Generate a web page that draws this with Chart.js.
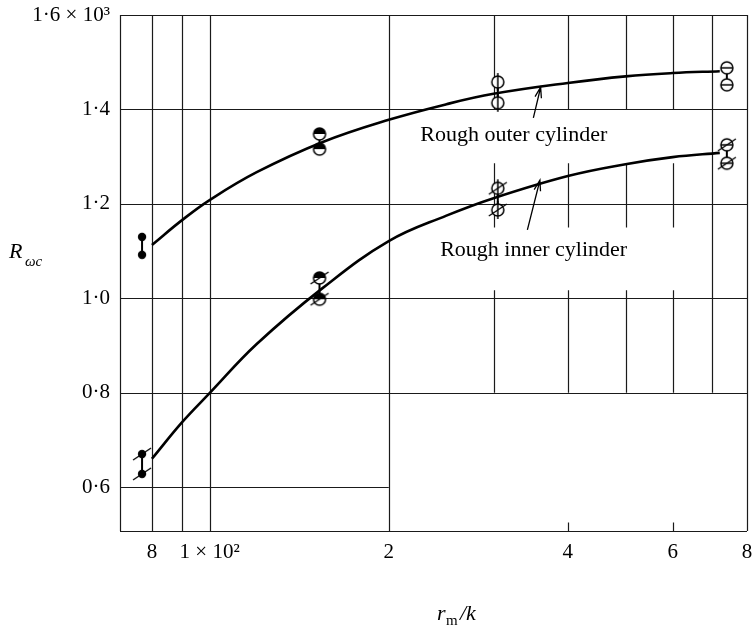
<!DOCTYPE html>
<html>
<head>
<meta charset="utf-8">
<script src="https://cdn.jsdelivr.net/npm/chart.js@4.4.1/dist/chart.umd.min.js"></script>
<style>
  body { margin: 0; background: #fff; }
  canvas { display: block; }
</style>
</head>
<body>
<canvas id="myChart" width="753" height="626"></canvas>
<script>
// r_m/k of each measured pair
const groupX = [77, 153, 305, 740];
// rough outer cylinder, top and bottom point of each pair
const outerHigh = [1130, 1348, 1458, 1488];
const outerLow = [1092, 1316, 1414, 1452];
// rough inner cylinder
const innerHigh = [670, 1043, 1233, 1325];
const innerLow = [628, 998, 1187, 1286];

// faired curves
const curveX = [80, 90, 100, 120, 155, 200, 250, 300, 400, 500, 600, 720];
const outerCurve = [1113, 1166, 1208, 1267, 1331, 1378, 1411, 1433, 1456, 1470, 1477, 1481];
const innerCurve = [660, 738, 799, 903, 1022, 1121, 1175, 1212, 1259, 1284, 1299, 1308];

// ticks
const xTicks = [80, 100, 200, 400, 600, 800];
const xTickLabels = ['8', '1 × 10²', '2', '4', '6', '8'];
const yTicks = [600, 800, 1000, 1200, 1400, 1600];
const yTickLabels = ['0·6', '0·8', '1·0', '1·2', '1·4', '1·6 × 10³'];

const xMin = 70.7, xMax = 800, yMin = 507, yMax = 1600;
const serif = "'Liberation Serif', 'DejaVu Serif', serif";

Chart.defaults.font.family = serif;
Chart.defaults.color = '#000';

// symbols used for the pairs
const pairStyles = ['dot', 'half', 'vbar', 'hbar'];

function marker(kind, slash) {
    const c = document.createElement('canvas');
    c.width = 26;
    c.height = 26;
    const g = c.getContext('2d');
    g.translate(13, 13);
    g.strokeStyle = '#000';
    g.fillStyle = '#000';
    if (kind === 'dot') {
        g.beginPath();
        g.arc(0, 0, 4.2, 0, 2 * Math.PI);
        g.fill();
    } else {
        const r = 6;
        g.lineWidth = 1.5;
        g.beginPath();
        g.arc(0, 0, r, 0, 2 * Math.PI);
        g.fillStyle = '#fff';
        g.fill();
        g.stroke();
        g.fillStyle = '#000';
        if (kind === 'half') {
            g.beginPath();
            g.arc(0, 0, r, Math.PI, 2 * Math.PI);
            g.fill();
        }
        if (kind === 'vbar') {
            g.beginPath();
            g.moveTo(0, -r - 3);
            g.lineTo(0, r + 3);
            g.stroke();
        }
        if (kind === 'hbar') {
            g.beginPath();
            g.moveTo(-r, 0);
            g.lineTo(r, 0);
            g.stroke();
        }
    }
    if (slash) {
        g.lineWidth = 1.3;
        g.beginPath();
        g.moveTo(-9, 6);
        g.lineTo(9, -6);
        g.stroke();
    }
    return c;
}

// grid of the original graph paper, not every line runs right across
const gridV = [
    [xMin, yMin, yMax], [80, yMin, yMax], [90, yMin, yMax], [100, yMin, yMax],
    [200, yMin, yMax], [700, 800, yMax], [800, yMin, yMax],
    [400, yMin, yMin + 18], [600, yMin, yMin + 18]
];
[300, 400, 500, 600].forEach(v => {
    gridV.push([v, 800, 1017], [v, 1150, 1286], [v, 1400, yMax]);
});
const gridH = [
    [yMin, xMin, xMax], [600, xMin, 200], [800, xMin, xMax], [1000, xMin, xMax],
    [1200, xMin, xMax], [1400, xMin, xMax], [yMax, xMin, xMax]
];

const paperGrid = {
    id: 'paperGrid',
    beforeDatasetsDraw(chart) {
        const { ctx } = chart;
        const x = chart.scales.x, y = chart.scales.y;
        ctx.save();
        ctx.strokeStyle = '#1a1a1a';
        ctx.lineWidth = 1.2;
        ctx.beginPath();
        gridV.forEach(([v, a, b]) => {
            const px = Math.round(x.getPixelForValue(v)) + 0.5;
            ctx.moveTo(px, y.getPixelForValue(a));
            ctx.lineTo(px, y.getPixelForValue(b));
        });
        gridH.forEach(([v, a, b]) => {
            const py = Math.round(y.getPixelForValue(v)) + 0.5;
            ctx.moveTo(x.getPixelForValue(a), py);
            ctx.lineTo(x.getPixelForValue(b), py);
        });
        ctx.stroke();
        ctx.restore();
    }
};

// curve labels with their arrows
const notes = [
    { text: 'Rough outer cylinder', x: 226, y: 1346, from: [350, 1382], to: [360, 1447] },
    { text: 'Rough inner cylinder', x: 244, y: 1102, from: [342, 1145], to: [359, 1250] }
];

function arrow(ctx, x0, y0, x1, y1) {
    const a = Math.atan2(y1 - y0, x1 - x0);
    ctx.beginPath();
    ctx.moveTo(x0, y0);
    ctx.lineTo(x1, y1);
    ctx.moveTo(x1 - 11 * Math.cos(a - 0.3), y1 - 11 * Math.sin(a - 0.3));
    ctx.lineTo(x1, y1);
    ctx.lineTo(x1 - 11 * Math.cos(a + 0.3), y1 - 11 * Math.sin(a + 0.3));
    ctx.stroke();
}

const labels = {
    id: 'labels',
    afterDatasetsDraw(chart) {
        const { ctx } = chart;
        const x = chart.scales.x, y = chart.scales.y;
        ctx.save();
        ctx.fillStyle = '#000';
        ctx.strokeStyle = '#000';
        ctx.lineWidth = 1.3;
        ctx.font = '22px ' + serif;
        ctx.textBaseline = 'middle';
        notes.forEach(n => {
            ctx.fillText(n.text, x.getPixelForValue(n.x), y.getPixelForValue(n.y));
            arrow(ctx, x.getPixelForValue(n.from[0]), y.getPixelForValue(n.from[1]),
                x.getPixelForValue(n.to[0]), y.getPixelForValue(n.to[1]));
        });

        // axis titles
        ctx.textBaseline = 'alphabetic';
        ctx.font = 'italic 22px ' + serif;
        ctx.fillText('R', 9, 258);
        ctx.font = 'italic 15px ' + serif;
        ctx.fillText('ωc', 25, 266);

        ctx.font = 'italic 22px ' + serif;
        ctx.fillText('r', 437, 620);
        ctx.font = '15px ' + serif;
        ctx.fillText('m', 446, 625);
        ctx.font = 'italic 22px ' + serif;
        ctx.fillText('/k', 460, 620);
        ctx.restore();
    }
};

const datasets = [
    {
        data: curveX.map((v, i) => ({ x: v, y: outerCurve[i] })),
        showLine: true, borderColor: '#000', borderWidth: 2.6, pointRadius: 0,
        tension: 0.4
    },
    {
        data: curveX.map((v, i) => ({ x: v, y: innerCurve[i] })),
        showLine: true, borderColor: '#000', borderWidth: 2.6, pointRadius: 0,
        tension: 0.4
    }
];

groupX.forEach((v, i) => {
    datasets.push({
        data: [{ x: v, y: outerHigh[i] }, { x: v, y: outerLow[i] }],
        showLine: true, borderColor: '#000', borderWidth: 2,
        pointStyle: marker(pairStyles[i], false)
    });
    datasets.push({
        data: [{ x: v, y: innerHigh[i] }, { x: v, y: innerLow[i] }],
        showLine: true, borderColor: '#000', borderWidth: 2,
        pointStyle: marker(pairStyles[i], true)
    });
});

const ctx = document.getElementById('myChart');
const myChart = new Chart(ctx, {
    type: 'scatter',
    data: { datasets: datasets },
    options: {
        responsive: false,
        animation: false,
        layout: { padding: { top: 15, right: 3, left: 0, bottom: 0 } },
        plugins: {
            legend: { display: false },
            tooltip: { enabled: false }
        },
        scales: {
            x: {
                type: 'logarithmic',
                min: xMin,
                max: xMax,
                grid: { display: false, drawTicks: false },
                border: { display: false },
                afterBuildTicks: s => { s.ticks = xTicks.map(v => ({ value: v })); },
                afterFit: s => { s.height = 95; s.paddingLeft = 0; s.paddingRight = 0; },
                ticks: {
                    font: { size: 21 },
                    padding: 9,
                    maxRotation: 0,
                    autoSkip: false,
                    callback: (v, i) => xTickLabels[i]
                }
            },
            y: {
                min: yMin,
                max: yMax,
                grid: { display: false, drawTicks: false },
                border: { display: false },
                afterBuildTicks: s => { s.ticks = yTicks.map(v => ({ value: v })); },
                afterFit: s => { s.width = 120; s.paddingTop = 0; s.paddingBottom = 0; },
                ticks: {
                    font: { size: 21 },
                    padding: 10,
                    callback: (v, i) => yTickLabels[i]
                }
            }
        }
    },
    plugins: [paperGrid, labels]
});
</script>
</body>
</html>
